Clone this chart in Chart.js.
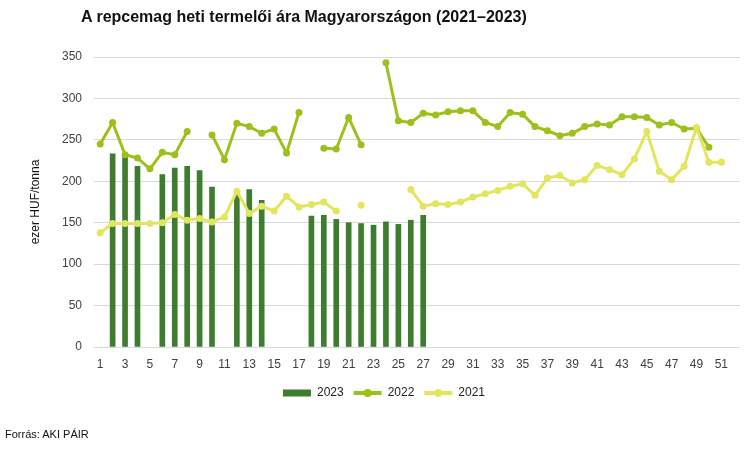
<!DOCTYPE html>
<html>
<head>
<meta charset="utf-8">
<script src="https://cdn.jsdelivr.net/npm/chart.js@4.4.0/dist/chart.umd.min.js"></script>
<style>
  html, body { margin: 0; padding: 0; background: #ffffff; }
  #wrap { position: relative; width: 750px; height: 450px; font-family: "Liberation Sans", Arial, sans-serif; }
  #title { position: absolute; left: 81px; top: 8px; font-size: 16px; font-weight: bold; color: #111; white-space: nowrap; }
  #source { position: absolute; left: 5px; top: 428px; font-size: 11px; color: #111; white-space: nowrap; }
  canvas { position: absolute; left: 0; top: 0; }
</style>
</head>
<body>
<div id="wrap">
  <canvas id="c" width="750" height="450"></canvas>
  <div id="title">A repcemag heti termelői ára Magyarországon (2021–2023)</div>
  <div id="source">Forrás: AKI PÁIR</div>
</div>
<script>
const weeks = ['1','2','3','4','5','6','7','8','9','10','11','12','13','14','15','16','17','18','19','20','21','22','23','24','25','26','27','28','29','30','31','32','33','34','35','36','37','38','39','40','41','42','43','44','45','46','47','48','49','50','51','52'];

const price2023 = [null,233,229,218,null,208,216,218,213,193,null,185,190,177,null,null,null,158,159,154,150,149,147,151,148,153,159,
  null,null,null,null,null,null,null,null,null,null,null,null,null,null,null,null,null,null,null,null,null,null,null,null,null];

const price2022 = [245,271,232,228,215,235,232,260,null,256,226,270,266,258,263,234,283,null,240,239,277,244,null,343,273,271,282,280,284,285,285,271,266,283,281,266,261,255,258,266,269,268,278,278,277,268,271,263,264,241,null,null];

const price2021 = [138,149,149,149,149,150,160,153,155,151,157,188,161,170,164,182,169,172,175,164,null,171,null,null,null,190,170,173,172,175,181,185,189,194,197,183,204,207,198,202,219,214,208,227,260,212,202,218,265,223,223,null];

const yTicks = [0,50,100,150,200,250,300,350];

const C2023 = '#3e7d2f';
const C2022 = '#9dc01c';
const C2021 = '#e2e55e';

const legendSwatches = {
  id: 'legendSwatches',
  afterDraw(chart) {
    const lg = chart.legend;
    if (!lg || !lg.legendHitBoxes) return;
    const ctx = chart.ctx;
    const bw = lg.options.labels.boxWidth;
    lg.legendHitBoxes.forEach((hb, i) => {
      const item = lg.legendItems[i];
      const ds = chart.data.datasets[item.datasetIndex];
      const cy = hb.top + hb.height / 2;
      const x0 = hb.left;
      ctx.save();
      if (ds.type === 'bar') {
        ctx.fillStyle = ds.backgroundColor;
        ctx.fillRect(x0, cy - 3.5, bw, 7);
      } else {
        ctx.strokeStyle = ds.borderColor;
        ctx.lineWidth = 4;
        ctx.beginPath();
        ctx.moveTo(x0, cy);
        ctx.lineTo(x0 + bw, cy);
        ctx.stroke();
        ctx.fillStyle = ds.borderColor;
        ctx.beginPath();
        ctx.arc(x0 + bw / 2, cy, 4, 0, Math.PI * 2);
        ctx.fill();
      }
      ctx.restore();
    });
  }
};

new Chart(document.getElementById('c'), {
  data: {
    labels: weeks,
    datasets: [
      { type: 'bar', label: '2023', data: price2023, backgroundColor: C2023, barThickness: 5, order: 2 },
      { type: 'line', label: '2022', data: price2022, borderColor: C2022, backgroundColor: C2022,
        borderWidth: 3, pointRadius: 3.5, pointBackgroundColor: C2022, pointBorderColor: C2022, pointBorderWidth: 0,
        spanGaps: false, tension: 0, order: 1 },
      { type: 'line', label: '2021', data: price2021, borderColor: C2021, backgroundColor: C2021,
        borderWidth: 3, pointRadius: 3.5, pointBackgroundColor: C2021, pointBorderColor: C2021, pointBorderWidth: 0,
        spanGaps: false, tension: 0, order: 0 }
    ]
  },
  options: {
    responsive: false,
    devicePixelRatio: 1,
    animation: false,
    events: [],
    layout: { padding: { left: 28, right: 10, top: 57, bottom: 41 } },
    plugins: {
      title: { display: false },
      tooltip: { enabled: false },
      legend: {
        position: 'bottom',
        labels: {
          boxWidth: 28,
          boxHeight: 7,
          padding: 10,
          color: '#222',
          font: { family: '"Liberation Sans", Arial, sans-serif', size: 12 },
          sort: (a, b) => a.datasetIndex - b.datasetIndex,
          generateLabels(chart) {
            return chart.data.datasets.map((ds, i) => ({
              text: ds.label, datasetIndex: i,
              fillStyle: 'rgba(0,0,0,0)', strokeStyle: 'rgba(0,0,0,0)', lineWidth: 0,
              hidden: false, fontColor: '#222'
            }));
          }
        }
      }
    },
    scales: {
      x: {
        grid: { display: false },
        border: { display: false },
        ticks: {
          autoSkip: false, maxRotation: 0, minRotation: 0, padding: 2,
          color: '#404040',
          font: { family: '"Liberation Sans", Arial, sans-serif', size: 12 },
          callback: function(v, i) { return i % 2 === 0 ? this.getLabelForValue(v) : ''; }
        },
        afterFit(s) { s.height = 30; }
      },
      y: {
        min: 0, max: 350,
        afterBuildTicks(s) { s.ticks = yTicks.map(v => ({ value: v })); },
        grid: { color: '#d9d9d9', lineWidth: 1, drawTicks: false },
        border: { display: false },
        ticks: {
          padding: 12, color: '#404040',
          font: { family: '"Liberation Sans", Arial, sans-serif', size: 12 }
        },
        title: {
          display: true, text: 'ezer HUF/tonna', color: '#111',
          font: { family: '"Liberation Sans", Arial, sans-serif', size: 12 },
          padding: { top: 0, bottom: 0 }
        },
        afterFit(s) { s.width = 66; }
      }
    }
  },
  plugins: [legendSwatches]
});
</script>
</body>
</html>
